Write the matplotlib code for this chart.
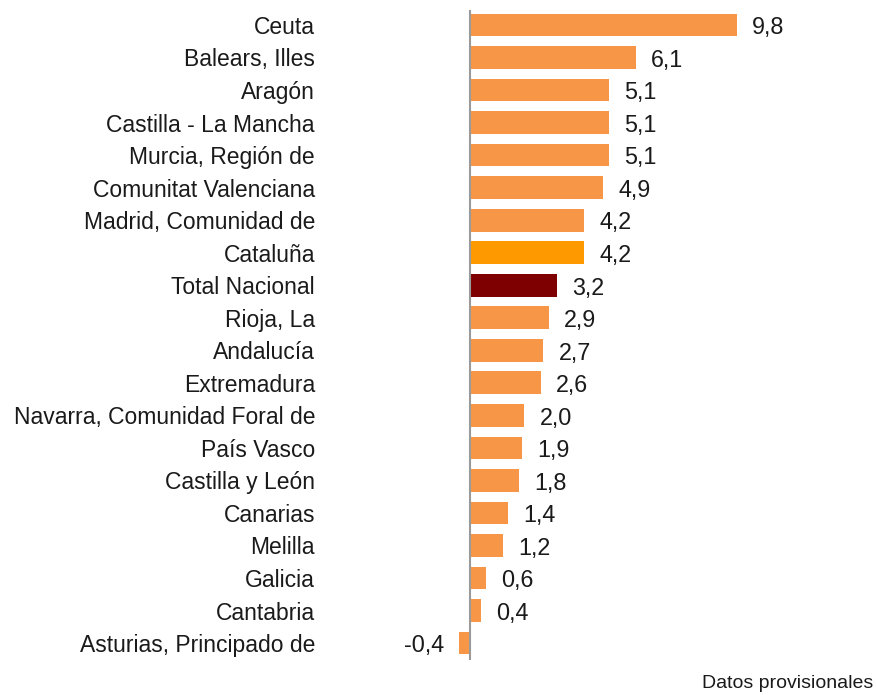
import matplotlib
matplotlib.use("Agg")
import matplotlib.pyplot as plt

# --- DATA ---
regions = [
    "Ceuta", "Balears, Illes", "Aragón", "Castilla - La Mancha",
    "Murcia, Región de", "Comunitat Valenciana", "Madrid, Comunidad de",
    "Cataluña", "Total Nacional", "Rioja, La", "Andalucía", "Extremadura",
    "Navarra, Comunidad Foral de", "País Vasco", "Castilla y León",
    "Canarias", "Melilla", "Galicia", "Cantabria", "Asturias, Principado de",
]
values = [9.8, 6.1, 5.1, 5.1, 5.1, 4.9, 4.2, 4.2, 3.2, 2.9, 2.7, 2.6,
          2.0, 1.9, 1.8, 1.4, 1.2, 0.6, 0.4, -0.4]
labels = ["9,8", "6,1", "5,1", "5,1", "5,1", "4,9", "4,2", "4,2", "3,2", "2,9",
          "2,7", "2,6", "2,0", "1,9", "1,8", "1,4", "1,2", "0,6", "0,4", "-0,4"]

ORANGE = "#F79646"
HIGHLIGHT = {"Cataluña": "#FF9900", "Total Nacional": "#7F0000"}

plt.rcParams['font.family'] = ['Liberation Sans', 'DejaVu Sans']

fig = plt.figure(figsize=(8.76, 6.95), dpi=100)
ax = fig.add_axes([440 / 876, 1 - 660 / 695, 380 / 876, 650 / 695])

ypos = list(range(len(regions)))
colors = [HIGHLIGHT.get(r, ORANGE) for r in regions]
ax.barh(ypos, values, height=0.7, color=colors)

for y, v, lab in zip(ypos, values, labels):
    if v >= 0:
        ax.annotate(lab, (v, y), xytext=(11, -2), textcoords="offset points",
                    ha="left", va="center", fontsize=16.8, color="#1a1a1a")
    else:
        ax.annotate(lab, (v, y), xytext=(-11, -2), textcoords="offset points",
                    ha="right", va="center", fontsize=16.8, color="#1a1a1a")

ax.axvline(0, color="#9a9a9a", lw=1.5)
ax.set_xlim(-30 / 27.2, 350 / 27.2)
ax.set_ylim(19.52, -0.46)

ax.set_yticks(ypos)
ax.set_yticklabels(regions, fontsize=16.5, color="#1a1a1a")
ax.tick_params(axis="y", length=0, pad=90)
ax.set_xticks([])
for s in ax.spines.values():
    s.set_visible(False)

fig.text(873 / 876, 1 - 683 / 695, "Datos provisionales", ha="right",
         va="center", fontsize=14, color="#1a1a1a")

fig.savefig("out.png", dpi=100)
